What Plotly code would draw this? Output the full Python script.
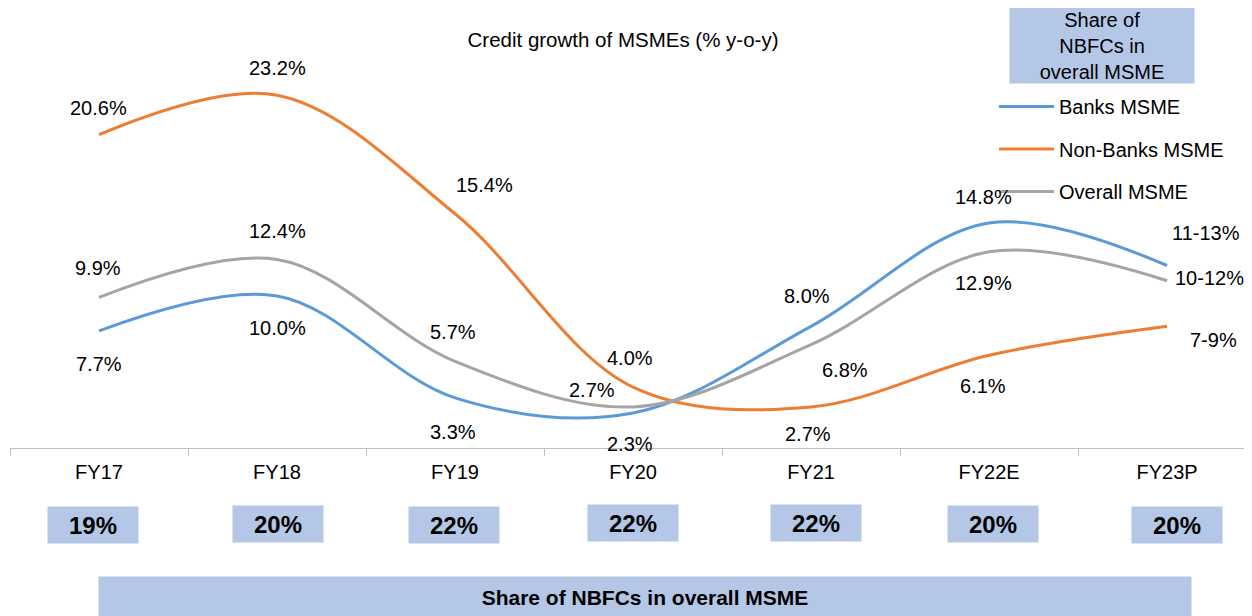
import plotly.graph_objects as go

categories = ["FY17", "FY18", "FY19", "FY20", "FY21", "FY22E", "FY23P"]
banks = [7.7, 10.0, 3.3, 2.3, 8.0, 14.8, 12.0]
non_banks = [20.6, 23.2, 15.4, 4.0, 2.7, 6.1, 8.0]
overall = [9.9, 12.4, 5.7, 2.7, 6.8, 12.9, 11.0]
banks_labels = ["7.7%", "10.0%", "3.3%", "2.3%", "8.0%", "14.8%", "11-13%"]
non_banks_labels = ["20.6%", "23.2%", "15.4%", "4.0%", "2.7%", "6.1%", "7-9%"]
overall_labels = ["9.9%", "12.4%", "5.7%", "2.7%", "6.8%", "12.9%", "10-12%"]
nbfc_share = ["19%", "20%", "22%", "22%", "22%", "20%", "20%"]

FONT = "Liberation Sans, Arial, sans-serif"
BLUE, ORANGE, GRAY = "#5B9BD5", "#ED7D31", "#A5A5A5"
BOX = "#B4C7E7"

# page body has an 8px margin: figure is drawn at (8, 8) in the window
OFF = 8
FIG_W, FIG_H = 1252 - OFF, 616 - OFF

# label offsets (pixels) per series/point
banks_off = [(0, -33), (0, -32), (-2, -34), (-3, -31), (-4, 30), (-6, 26), (39, 33)]
non_banks_off = [(-1, 27), (0, 27), (29, 29), (-3, 29), (-3, -27), (-6, -31), (46, -14)]
overall_off = [(-1, 29), (0, 28), (-2, 29), (-41, 17), (34, -25), (-6, -31), (42, 3)]
# share box horizontal nudges (pixels) and vertical centres (window px)
box_dx = [-6, 1, -1, 0, 5, 4, 10]
box_cy = [525, 524, 525, 523, 523, 524, 525]

fig = go.Figure()
series = [
    ("Banks MSME", banks, BLUE, "g1"),
    ("Non-Banks MSME", non_banks, ORANGE, "g2"),
    ("Overall MSME", overall, GRAY, "g3"),
]
for name, vals, col, grp in series:
    fig.add_trace(go.Scatter(
        x=categories, y=vals, name=name, mode="lines",
        line=dict(color=col, width=3, shape="spline", smoothing=1.0),
        legendgroup=grp, hoverinfo="skip",
    ))

annotations = []
for vals, labels, offs in [(banks, banks_labels, banks_off),
                           (non_banks, non_banks_labels, non_banks_off),
                           (overall, overall_labels, overall_off)]:
    for c, v, t, (dx, dy) in zip(categories, vals, labels, offs):
        annotations.append(dict(
            x=c, y=v, xref="x", yref="y", text=t, showarrow=False,
            xshift=dx, yshift=dy, font=dict(family=FONT, size=20, color="#000"),
        ))

# plot area in window pixels: x 10..1252, y 10..448 (height 438)
def py(pix):
    return (448 - pix) / 438.0

def px(pix):
    return (pix - 10) / 1242.0

for c, s, dx, cy in zip(categories, nbfc_share, box_dx, box_cy):
    annotations.append(dict(
        x=c, y=py(cy), xref="x", yref="paper", text="<b>%s</b>" % s,
        showarrow=False, bgcolor=BOX, width=90, height=36, borderpad=0,
        xshift=dx, xanchor="center", yanchor="middle",
        font=dict(family=FONT, size=24, color="#000"),
    ))

annotations.append(dict(
    x=px(645), y=py(597), xref="paper", yref="paper",
    text="<b>Share of NBFCs in overall MSME</b>", showarrow=False,
    bgcolor=BOX, width=1092, height=40, borderpad=0,
    xanchor="center", yanchor="middle",
    font=dict(family=FONT, size=21, color="#000"),
))

annotations.append(dict(
    x=px(1102), y=py(45.5), xref="paper", yref="paper",
    text="Share of<br>NBFCs in<br>overall MSME", showarrow=False,
    bgcolor=BOX, width=184, height=75, borderpad=0,
    xanchor="center", yanchor="middle",
    font=dict(family=FONT, size=20, color="#000"),
))

fig.update_layout(
    width=FIG_W, height=FIG_H,
    margin=dict(l=10 - OFF, r=0, t=10 - OFF, b=616 - 448, pad=0),
    paper_bgcolor="white", plot_bgcolor="white",
    font=dict(family=FONT, size=20, color="#000"),
    title=dict(text="Credit growth of MSMEs (% y-o-y)", x=(623 - OFF) / FIG_W, xanchor="center",
               y=1 - (40 - OFF) / FIG_H, yanchor="middle", yref="container",
               font=dict(family=FONT, size=20.5, color="#000")),
    showlegend=True,
    legend=dict(x=px(994), y=py(87), xanchor="left", yanchor="top",
                font=dict(family=FONT, size=20, color="#000"),
                tracegroupgap=13.5, itemwidth=55, bgcolor="rgba(0,0,0,0)"),
    xaxis=dict(type="category", range=[-0.5, 6.477], showgrid=False,
               showline=True, linecolor="#BFBFBF", linewidth=1,
               ticks="outside", tickson="boundaries", ticklen=7, tickcolor="#BFBFBF",
               tickfont=dict(family=FONT, size=20, color="#000"),
               ticklabelstandoff=6, fixedrange=True),
    yaxis=dict(range=[0, 28.8], showgrid=False, showticklabels=False,
               zeroline=False, showline=False, fixedrange=True),
    annotations=annotations,
)

fig.write_html("out.html")
